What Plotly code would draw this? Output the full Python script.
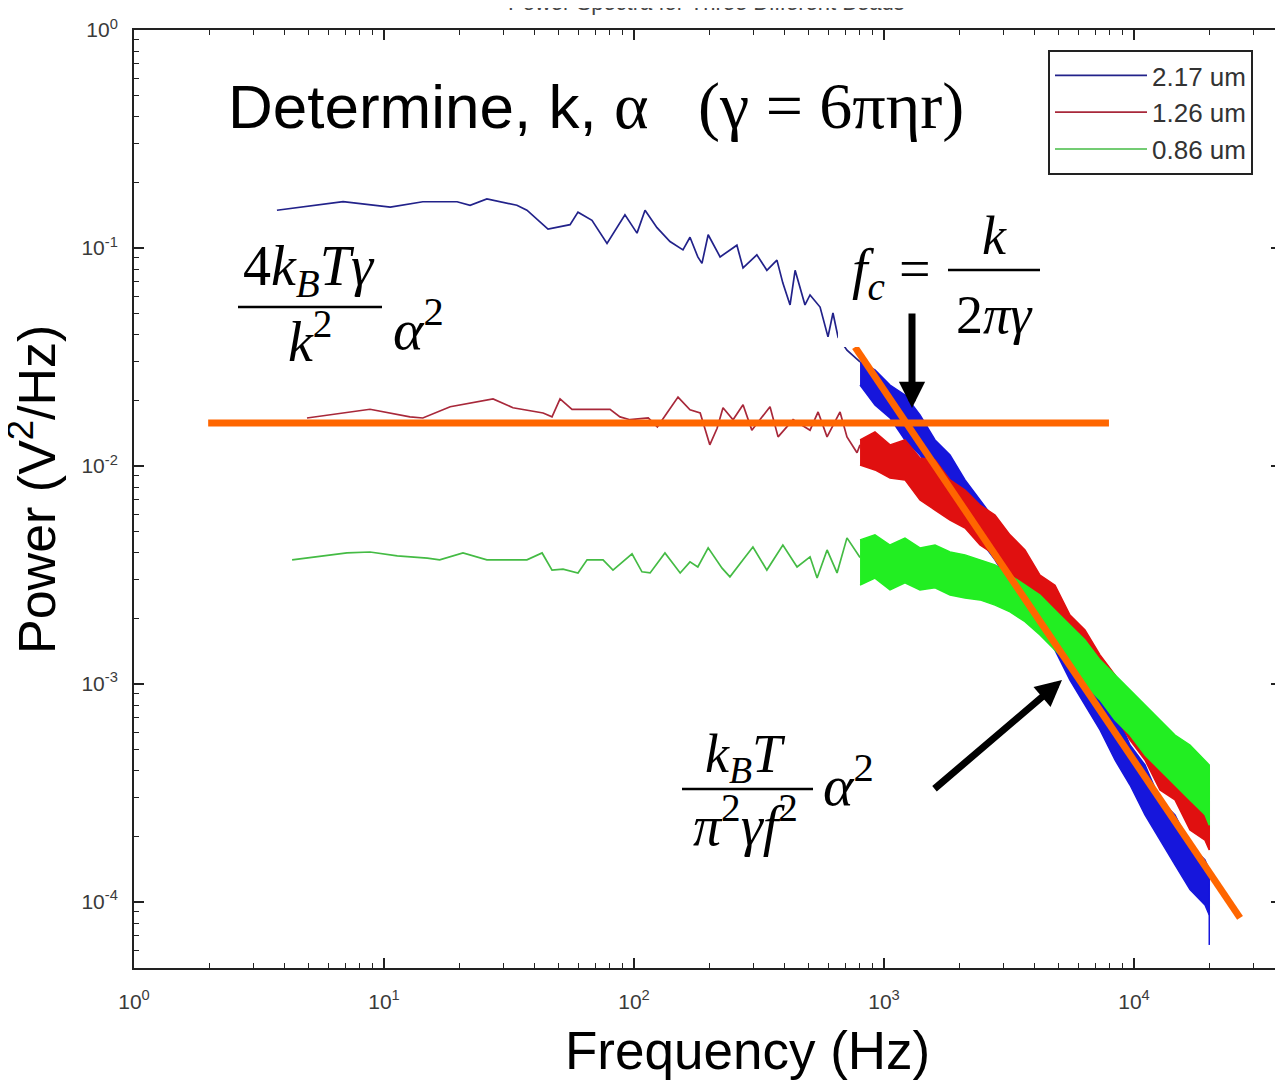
import plotly.graph_objects as go

# the page body adds an 8px margin, so the figure is shrunk by that much
OFF = 8
W, H = 1283 - OFF, 1081 - OFF
ML, MR, MT, MB = 134 - OFF, 2, 30 - OFF, 113

SANS = "Liberation Sans, Arial, sans-serif"
SERIF = "Liberation Serif, Times New Roman, serif"

# --- spectra (Hz, V^2/Hz) ---
# sparse low-frequency part drawn as a plain line
BLUE_F = [3.73, 6.86, 10.6, 14.3, 19.6, 22.1, 25.8, 34.0, 37.3, 45.3, 55.5, 59.7, 67.9, 78.0,
          92.0, 102.8, 110.7, 123.6, 139.3, 157, 167.5, 180, 187, 198, 221, 258, 273, 310, 340,
          373, 394, 421, 441, 483, 506, 555, 597, 625, 655, 711, 802]
BLUE_P = [0.149, 0.163, 0.154, 0.163, 0.163, 0.157, 0.168, 0.157, 0.149, 0.122, 0.128, 0.146,
          0.134, 0.105, 0.142, 0.117, 0.149, 0.124, 0.107, 0.098, 0.112, 0.091, 0.085, 0.115,
          0.091, 0.103, 0.081, 0.093, 0.079, 0.088, 0.069, 0.0548, 0.079, 0.0548, 0.0609, 0.0536,
          0.0391, 0.0503, 0.039, 0.034, 0.0300]

RED_F = [4.92, 8.79, 12.7, 14.3, 18.4, 27.3, 32.8, 43.3, 47.0, 50.6, 56.5, 80.2, 87.9, 96.4,
         114, 124, 135.5, 150, 167.5, 184, 201, 215, 227, 249, 273, 296, 350, 377, 433, 506,
         545, 592, 667, 711, 780, 802]
RED_P = [0.0166, 0.0182, 0.0168, 0.0166, 0.0187, 0.0203, 0.0185, 0.0175, 0.0168, 0.0203, 0.0182,
         0.0182, 0.0168, 0.0163, 0.0166, 0.0151, 0.0175, 0.0207, 0.0181, 0.0175, 0.0125, 0.0149,
         0.0185, 0.0163, 0.0191, 0.0146, 0.0187, 0.0136, 0.0163, 0.0146, 0.0177, 0.0136, 0.0177,
         0.0136, 0.0115, 0.0125]

GREEN_F = [4.29, 7.11, 8.79, 11.3, 14.9, 16.7, 20.7, 25.8, 37.3, 42.9, 47, 52, 59.7, 64.9, 75.2,
           82.4, 98.2, 107.6, 116, 133, 153, 167.5, 180, 198, 225, 242, 273, 299, 340, 394, 449,
           506, 540, 592, 649, 711, 802]
GREEN_P = [0.00371, 0.00399, 0.00403, 0.00387, 0.00378, 0.00371, 0.00399, 0.00371, 0.00371,
           0.00399, 0.00333, 0.00336, 0.00323, 0.00371, 0.00371, 0.00333, 0.00395, 0.00327,
           0.00323, 0.00399, 0.00323, 0.00363, 0.00344, 0.00421, 0.00340, 0.00310, 0.00371,
           0.00425, 0.00333, 0.00434, 0.00344, 0.00383, 0.00306, 0.00412, 0.00323, 0.00468,
           0.00380]

# dense high-frequency part: upper / lower edge of the noise band
BAND_F = [802, 920, 1057, 1213, 1393, 1600, 1837, 2109, 2421, 2780, 3192, 3664, 4207, 4831,
          5546, 6368, 7311, 8395, 9638, 11066, 12706, 14588, 16749, 19231, 20000]
BLUE_UP = [0.02999, 0.02757, 0.02352, 0.02117, 0.01714, 0.01316, 0.01123, 0.00863, 0.00698,
           0.00565, 0.00434, 0.00371, 0.00270, 0.00230, 0.00159, 0.00136, 0.000939, 0.000760,
           0.000525, 0.000425, 0.000294, 0.000251, 0.000183, 0.000156, 0.000140]
BLUE_LO = [0.02352, 0.01905, 0.01661, 0.01316, 0.01123, 0.00909, 0.00698, 0.00596, 0.00458,
           0.00371, 0.00284, 0.00230, 0.00177, 0.00143, 0.00104, 0.000801, 0.000615, 0.000448,
           0.000344, 0.000251, 0.000192, 0.000148, 0.000114, 0.0000969, 0.0000872]
RED_UP = [0.01316, 0.01432, 0.01249, 0.01316, 0.01088, 0.01065, 0.00863, 0.00776, 0.00662,
          0.00596, 0.00483, 0.00412, 0.00316, 0.00284, 0.00207, 0.00177, 0.00136, 0.00110,
          0.000845, 0.000721, 0.000553, 0.000498, 0.000403, 0.000363, 0.000344]
RED_LO = [0.01011, 0.00959, 0.00881, 0.00863, 0.00698, 0.00628, 0.00565, 0.00519, 0.00434,
          0.00391, 0.00316, 0.00284, 0.00207, 0.00187, 0.00143, 0.00116, 0.000890, 0.000721,
          0.000553, 0.000448, 0.000326, 0.000294, 0.000214, 0.000192, 0.000173]
GREEN_UP = [0.00458, 0.00483, 0.00434, 0.00467, 0.00421, 0.00434, 0.00403, 0.00391, 0.00371,
            0.00352, 0.00316, 0.00284, 0.00256, 0.00218, 0.00187, 0.00159, 0.00129, 0.00110,
            0.000939, 0.000801, 0.000684, 0.000583, 0.000525, 0.000448, 0.000425]
GREEN_LO = [0.00284, 0.00306, 0.00270, 0.00291, 0.00270, 0.00276, 0.00256, 0.00248, 0.00243,
            0.00230, 0.00214, 0.00193, 0.00168, 0.00143, 0.00122, 0.000989, 0.000845, 0.000684,
            0.000583, 0.000472, 0.000403, 0.000344, 0.000294, 0.000251, 0.000225]
BLUE_TAIL_F = [20000, 20000]
BLUE_TAIL_P = [0.000120, 0.0000635]

# hand-drawn asymptotes
PLATEAU_F = [1.98, 7940]
PLATEAU_P = [0.01574, 0.01574]
SLOPE_F = [766, 26550]
SLOPE_P = [0.0351, 0.0000845]

SERIES = [
    ("2.17 um", BLUE_F, BLUE_P, BLUE_UP, BLUE_LO, "#22228a", "#1616dc"),
    ("1.26 um", RED_F, RED_P, RED_UP, RED_LO, "#a8283a", "#e01010"),
    ("0.86 um", GREEN_F, GREEN_P, GREEN_UP, GREEN_LO, "#44bb44", "#22ee22"),
]

X_TICKS = [1, 10, 100, 1000, 10000]
X_TEXT = ["10<sup>0</sup>", "10<sup>1</sup>", "10<sup>2</sup>", "10<sup>3</sup>", "10<sup>4</sup>"]
Y_TICKS = [1e-4, 1e-3, 1e-2, 1e-1, 1]
Y_TEXT = ["10<sup>-4</sup>", "10<sup>-3</sup>", "10<sup>-2</sup>", "10<sup>-1</sup>", "10<sup>0</sup>"]


def px(x):
    # page column -> paper x
    return (x - OFF - ML) / (W - ML - MR)


def py(y):
    # page row -> paper y
    return 1 - (y - OFF - MT) / (H - MT - MB)


def minor_vals(lo, hi):
    vals = []
    for e in range(lo, hi):
        vals += [m * 10 ** e for m in range(2, 10)]
    return vals


fig = go.Figure()
for name, f, p, up, lo, line_col, band_col in SERIES:
    fig.add_trace(go.Scatter(x=f, y=p, mode="lines", name=name, legendgroup=name,
                             line=dict(color=line_col, width=1.7)))
    fig.add_trace(go.Scatter(x=BAND_F + BAND_F[::-1], y=up + lo[::-1], mode="lines", fill="toself",
                             fillcolor=band_col, line=dict(color=band_col, width=1.5),
                             legendgroup=name, showlegend=False, hoverinfo="skip"))
    if name == "2.17 um":
        fig.add_trace(go.Scatter(x=BLUE_TAIL_F, y=BLUE_TAIL_P, mode="lines", showlegend=False,
                                 line=dict(color=band_col, width=1.5), hoverinfo="skip"))

for f, p in [(PLATEAU_F, PLATEAU_P), (SLOPE_F, SLOPE_P)]:
    fig.add_trace(go.Scatter(x=f, y=p, mode="lines", showlegend=False,
                             line=dict(color="#ff6600", width=7)))

axis_common = dict(
    type="log", showgrid=False, zeroline=False, showline=True, linecolor="#222", linewidth=2,
    mirror="ticks", ticks="inside", ticklen=10, tickwidth=1.5, tickcolor="#222", automargin=False,
    tickfont=dict(family=SANS, size=21, color="#3a3a3a"),
)
fig.update_xaxes(range=[0, 4.588], tickvals=X_TICKS, ticktext=X_TEXT, ticklabelstandoff=14,
                 minor=dict(tickvals=minor_vals(0, 5), ticks="inside", ticklen=5,
                            tickcolor="#222", tickwidth=1.2),
                 **axis_common)
fig.update_yaxes(range=[-4.303, 0], tickvals=Y_TICKS, ticktext=Y_TEXT, ticklabelstandoff=10,
                 minor=dict(tickvals=minor_vals(-5, 0), ticks="inside", ticklen=5,
                            tickcolor="#222", tickwidth=1.2),
                 **axis_common)

shapes = [
    # white text box behind the f_c formula
    dict(type="rect", xref="paper", yref="paper", x0=px(838), x1=px(1048), y0=py(347), y1=py(205),
         fillcolor="white", line=dict(width=0), layer="above"),
    # fraction bars
    dict(type="line", xref="paper", yref="paper", x0=px(238), x1=px(382), y0=py(307), y1=py(307),
         line=dict(color="black", width=2.5), layer="above"),
    dict(type="line", xref="paper", yref="paper", x0=px(948), x1=px(1040), y0=py(270), y1=py(270),
         line=dict(color="black", width=2.5), layer="above"),
    dict(type="line", xref="paper", yref="paper", x0=px(682), x1=px(813), y0=py(789), y1=py(789),
         line=dict(color="black", width=2.5), layer="above"),
]


def label(x, y, text, size, family=SERIF, color="black", xanchor="center", **kw):
    return dict(xref="paper", yref="paper", x=px(x), y=py(y), text=text, showarrow=False,
                xanchor=xanchor, yanchor="middle",
                font=dict(family=family, size=size, color=color), **kw)


annotations = [
    label(706, 3, "Power Spectra for Three Different Beads", 22, family=SANS, color="#444"),
    label(226, 106, 'Determine, k, <span style="font-family:Liberation Serif;font-size:66px">'
                    'α&nbsp;&nbsp;&nbsp;(γ = 6πηr)</span>', 62, family=SANS, xanchor="left"),
    label(747, 1050, "Frequency (Hz)", 53, family=SANS),
    label(33, 490, "Power (V<sup>2</sup>/Hz)", 52, family=SANS, textangle=-90),
    # plateau formula
    label(309, 270, "4<i>k</i><sub><i>B</i></sub><i>Tγ</i>", 56),
    label(310, 337, "<i>k</i><sup>2</sup>", 56),
    label(418, 325, "<i>α</i><sup>2</sup>", 58),
    # corner frequency formula
    label(892, 273, "<i>f</i><sub><i>c</i></sub> =", 56),
    label(994, 236, "<i>k</i>", 54),
    label(994, 315, "2<i>πγ</i>", 54),
    # high-frequency formula
    label(745, 757, "<i>k</i><sub><i>B</i></sub><i>T</i>", 54),
    label(745, 821, "<i>π</i><sup>2</sup><i>γf</i><sup>2</sup>", 56),
    label(848, 781, "<i>α</i><sup>2</sup>", 58),
    # arrows
    dict(xref="paper", yref="paper", x=px(912), y=py(408), ax=0, ay=-96, text="", showarrow=True,
         arrowhead=2, arrowsize=0.75, arrowwidth=7, arrowcolor="black"),
    dict(xref="paper", yref="paper", x=px(1062), y=py(680), ax=-129, ay=110, text="", showarrow=True,
         arrowhead=2, arrowsize=0.75, arrowwidth=7, arrowcolor="black"),
]

fig.update_layout(
    width=W, height=H,
    margin=dict(l=ML, r=MR, t=MT, b=MB),
    paper_bgcolor="white", plot_bgcolor="white",
    shapes=shapes, annotations=annotations,
    legend=dict(x=px(1048), y=py(50), xanchor="left", yanchor="top", bgcolor="white",
                bordercolor="#222", borderwidth=2, itemwidth=92, tracegroupgap=0,
                font=dict(family=SANS, size=26, color="#333")),
    showlegend=True,
)

fig.write_html("out.html")
